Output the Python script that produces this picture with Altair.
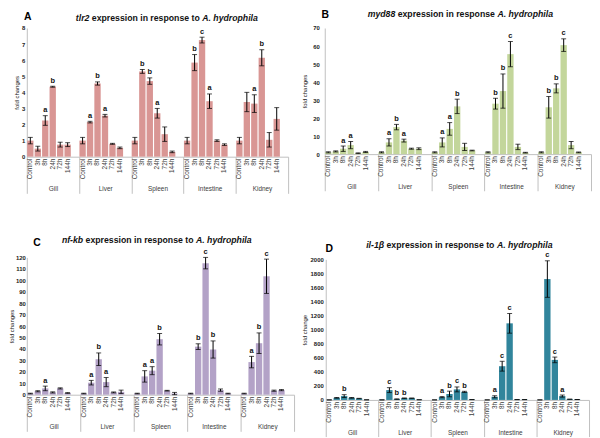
import altair as alt
import pandas as pd

F = "Liberation Sans"
tissues = ["Gill", "Liver", "Spleen", "Intestine", "Kidney"]
times = ["Control", "3h", "8h", "24h", "72h", "144h"]

# Panel A: tlr2
tlr2_mean = [[1.0, 0.5, 2.25, 4.35, 0.75, 0.75],
             [1.0, 2.15, 4.55, 2.55, 0.8, 0.55],
             [1.0, 5.3, 4.7, 2.7, 1.4, 0.3],
             [1.0, 5.85, 7.25, 3.45, 1.0, 0.75],
             [1.0, 3.4, 3.3, 6.15, 1.05, 2.35]]
tlr2_err = [[0.2, 0.15, 0.3, 0.03, 0.15, 0.12],
            [0.2, 0.05, 0.1, 0.08, 0.03, 0.05],
            [0.2, 0.12, 0.2, 0.3, 0.45, 0.05],
            [0.2, 0.5, 0.18, 0.45, 0.05, 0.05],
            [0.2, 0.6, 0.55, 0.5, 0.45, 0.7]]
tlr2_sig = [["", "", "a", "b", "", ""],
            ["", "a", "b", "a", "", ""],
            ["", "b", "b", "a", "", ""],
            ["", "b", "c", "a", "", ""],
            ["", "", "a", "b", "", ""]]

# Panel B: myd88
myd88_mean = [[1, 1.5, 3, 5, 0.5, 1.2],
              [1, 6.5, 15, 7.5, 3, 3],
              [1, 6.5, 14, 26.5, 4, 2],
              [1, 28, 35, 55.5, 4, 0.8],
              [1, 26, 36.5, 60.5, 5, 1]]
myd88_err = [[0.3, 0.3, 1.5, 2, 0.2, 0.3],
             [0.3, 2, 1.5, 0.8, 0.3, 0.5],
             [0.3, 2.5, 3.5, 4, 2, 0.2],
             [0.3, 3, 9.5, 7, 1.5, 0.2],
             [0.3, 6, 2.5, 3.5, 2, 0.2]]
myd88_sig = [["", "", "a", "a", "", ""],
             ["", "a", "b", "a", "", ""],
             ["", "a", "a", "b", "", ""],
             ["", "b", "b", "c", "", ""],
             ["", "b", "b", "c", "", ""]]

# Panel C: nf-kb
nfkb_mean = [[1, 3, 5.5, 2, 5.5, 1.5],
             [1, 10.5, 31, 11, 2, 2.5],
             [1, 16, 21, 48.5, 3.5, 1],
             [1, 42, 115, 39.5, 4, 1],
             [1, 28.5, 45, 103.5, 3.5, 4]]
nfkb_err = [[0.3, 0.5, 2, 0.5, 0.5, 0.3],
            [0.3, 2, 5.5, 4, 0.4, 1.5],
            [0.3, 5, 3.5, 5, 0.3, 1],
            [0.3, 2.5, 5, 7.5, 1, 0.3],
            [0.3, 5, 9, 15, 0.5, 0.5]]
nfkb_sig = [["", "", "a", "", "", ""],
            ["", "a", "b", "a", "", ""],
            ["", "a", "a", "b", "", ""],
            ["", "b", "c", "b", "", ""],
            ["", "a", "b", "c", "", ""]]

# Panel D: il-1beta
il1b_mean = [[1, 30, 55, 30, 20, 2],
             [1, 140, 12, 25, 25, 3],
             [1, 40, 85, 150, 115, 5],
             [1, 45, 480, 1090, 5, 5],
             [1, 1720, 570, 55, 10, 5]]
il1b_err = [[0, 5, 20, 5, 3, 0],
            [0, 35, 3, 3, 2, 0],
            [0, 8, 40, 35, 8, 0],
            [0, 15, 70, 140, 0, 0],
            [0, 260, 40, 15, 0, 0]]
il1b_sig = [["", "", "b", "", "", ""],
            ["", "c", "b", "b", "", ""],
            ["", "a", "b", "c", "b", ""],
            ["", "a", "c", "c", "", ""],
            ["", "c", "c", "a", "", ""]]

# Arial/Liberation Sans Bold advance widths (per 1000 em)
BW = {" ": 278, ".": 278, "-": 333, "A": 722, "a": 556, "b": 611, "c": 556, "d": 611,
      "e": 556, "f": 333, "g": 611, "h": 611, "i": 278, "k": 556, "l": 278, "m": 889,
      "n": 611, "o": 611, "p": 611, "r": 389, "s": 556, "t": 333, "x": 556, "y": 556,
      "1": 556, "2": 556, "8": 556, "β": 611}


def tw(s, fs):
    return sum(BW.get(ch, 556) for ch in s) / 1000.0 * fs


def panel(gene, mid, means, errs, sigs, color, ymax, ystep, ytitle, w, h, pin,
          letter, lx, ly, tcx, ty, tp, lp, ext=None):
    rows = []
    for i, t in enumerate(tissues):
        for j, tm in enumerate(times):
            m = means[i][j]
            e = errs[i][j]
            rows.append(dict(tissue=t, time=tm, value=m, lo=max(m - e, 0), hi=m + e, sig=sigs[i][j]))
    df = pd.DataFrame(rows)
    base = alt.Chart(df)
    xenc = alt.X("tissue:N", sort=tissues,
                 scale=alt.Scale(paddingInner=0, paddingOuter=0),
                 axis=alt.Axis(title=None, tickBand="extent", tickSize=37, tickColor="#bfbfbf",
                               tickWidth=1, domainColor="#bfbfbf", labelAngle=0, labelPadding=-7.5,
                               labelFontSize=6.5, labelColor="#404040", labelBaseline="top"))
    # six bars packed to the left of each group, one empty slot at the right
    xo = alt.XOffset("time:N", sort=times,
                     scale=alt.Scale(domain=times, paddingInner=pin,
                                     paddingOuter=(1 + pin) / 2, align=0.04))
    yscale = alt.Scale(domain=[0, ymax], nice=False)
    yaxis = alt.Axis(values=list(range(0, ymax + 1, ystep)), title=ytitle, ticks=False, format="d",
                     domainColor="#bfbfbf", labelFontWeight="bold", labelFontSize=6,
                     labelColor="#222222", titleFontSize=6, titleFontWeight="normal",
                     titleColor="#222222", labelPadding=lp, titlePadding=tp, grid=False,
                     minExtent=0)
    bars = base.mark_bar(color=color).encode(x=xenc, xOffset=xo,
                                             y=alt.Y("value:Q", scale=yscale, axis=yaxis))
    rule = base.mark_rule(color="black", strokeWidth=1).encode(
        x=xenc, xOffset=xo, y=alt.Y("lo:Q", scale=yscale, axis=yaxis), y2="hi:Q")
    caph = base.mark_tick(color="black", thickness=1, size=5).encode(
        x=xenc, xOffset=xo, y=alt.Y("hi:Q", scale=yscale, axis=yaxis))
    capl = base.mark_tick(color="black", thickness=1, size=5).encode(
        x=xenc, xOffset=xo, y=alt.Y("lo:Q", scale=yscale, axis=yaxis))
    sig = base.transform_filter("datum.sig != ''").mark_text(
        font=F, fontWeight="bold", fontSize=7.5, baseline="bottom", dy=-1.5, color="#111111").encode(
        x=xenc, xOffset=xo, y=alt.Y("hi:Q", scale=yscale, axis=yaxis), text="sig:N")
    tl = base.mark_text(font=F, fontSize=6.5, angle=270, align="right", baseline="middle",
                        color="#404040").encode(x=xenc, xOffset=xo, y=alt.value(h + 2), text="time:N")

    fs = 8.8
    total = tw(gene, fs) + tw(" ", fs) + tw(mid, fs) + tw(" ", fs) + tw("A. hydrophila", fs)
    x0 = tcx - total / 2
    x1 = x0 + tw(gene, fs) + tw(" ", fs)
    x2 = x1 + tw(mid, fs) + tw(" ", fs)

    def ttext(s, x, italic):
        return alt.Chart(pd.DataFrame({"t": [s]})).mark_text(
            font=F, fontSize=fs, fontWeight="bold", fontStyle="italic" if italic else "normal",
            align="left", baseline="middle", color="#111111").encode(
            x=alt.value(x), y=alt.value(ty), text="t:N")

    t1 = ttext(gene, x0, True)
    t2 = ttext(mid, x1, False)
    t3 = ttext("A. hydrophila", x2, True)
    pl = alt.Chart(pd.DataFrame({"t": [letter]})).mark_text(
        font=F, fontSize=10.5, fontWeight="bold", align="center", baseline="middle",
        color="#000000").encode(x=alt.value(lx), y=alt.value(ly), text="t:N")
    layers = [bars, rule, caph, capl, sig, tl, t1, t2, t3, pl]
    if ext is not None:
        layers.append(alt.Chart(pd.DataFrame({"t": ["."]})).mark_text(
            font=F, fontSize=7, opacity=0, baseline="middle").encode(
            x=alt.value(tcx), y=alt.value(ext), text="t:N"))
    return alt.layer(*layers).properties(width=w, height=h)


A = panel("tlr2", "expression in response to", tlr2_mean, tlr2_err, tlr2_sig, "#D99694",
          8, 1, "fold changes", 264, 130, 0.15, "A", 1, -10.6, 141.5, -10, 2, 2)
B = panel("myd88", "expression in response", myd88_mean, myd88_err, myd88_sig, "#C3D69B",
          70, 10, "fold changes", 269, 127.4, 0.27, "B", 0.5, -13, 137, -14, 5, 5.5)
C = panel("nf-kb", "expression in response to", nfkb_mean, nfkb_err, nfkb_sig, "#B3A2C7",
          120, 10, "fold changes", 270, 138.7, 0.22, "C", 10.3, -15, 131.3, -18, 1, 1.5)
D = panel("il-1β", "expression in response to", il1b_mean, il1b_err, il1b_sig, "#31859C",
          2000, 200, "fold change", 266, 142, 0.22, "D", 3.5, -10.5, 135, -14, 2.5, 2.5, ext=-20)

chart = alt.concat(A, B, C, D, columns=2, align="none",
                   spacing={"row": 41.75, "column": 6}).properties(padding=0).configure_view(
    stroke=None).configure_axis(labelFont=F, titleFont=F)

chart.save("out.html", embed_options={"renderer": "svg", "actions": False})
